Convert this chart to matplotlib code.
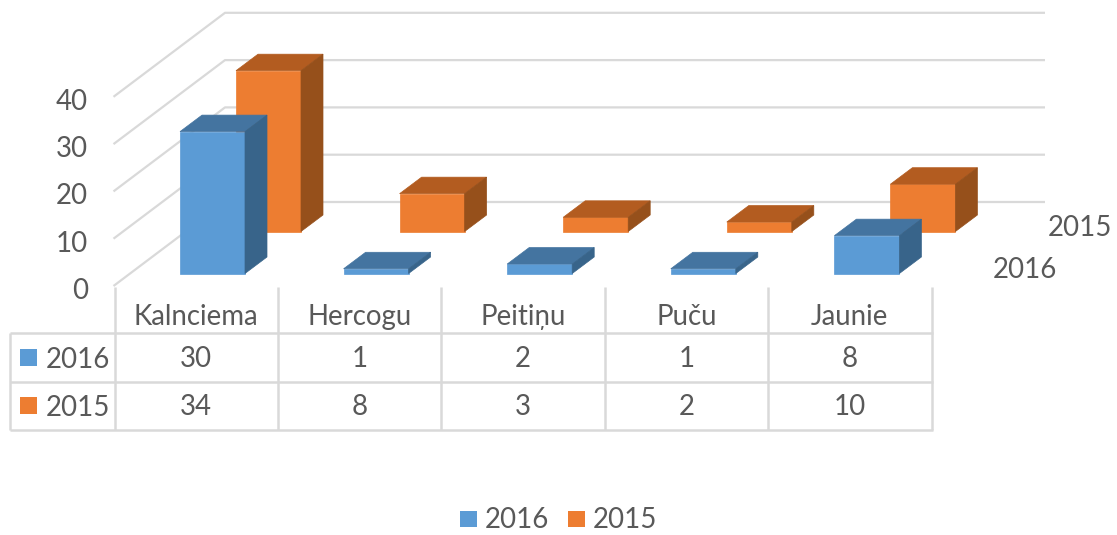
#! /usr/bin/python
import matplotlib
matplotlib.use('Agg')
import matplotlib.pyplot as plt

categories = ['Kalnciema', 'Hercogu', 'Peitiņu', 'Puču', 'Jaunie']
series_names = ['2016', '2015']
values_2016 = [30, 1, 2, 1, 8]
values_2015 = [34, 8, 3, 2, 10]
axis_ticks = [0, 10, 20, 30, 40]

plt.rcParams['font.family'] = ['Lato', 'DejaVu Sans']

W, H = 1117, 535
TEXT = '#595959'
GRID = '#d9d9d9'
FS = 19.9

# the scene is a fake 3D projection, everything in pixels of the picture
UNIT = 4.73       # pixels per value unit
STEP = 163.6      # category spacing
BAR_W = 65
DX, DY = 22, -16.5  # bar depth

fig = plt.figure(figsize=(W / 100, H / 100), dpi=100)
ax = fig.add_axes([0, 0, 1, 1])
ax.set_xlim(0, W)
ax.set_ylim(H, 0)
ax.axis('off')


def line(xs, ys, z=1, lw=1.6):
    ax.plot(xs, ys, color=GRID, lw=lw, zorder=z, solid_capstyle='butt')


def label(x, y, s, ha='center'):
    # +2 because Lato sits higher in its box than the original font
    ax.text(x, y + 2, s, ha=ha, va='center', fontsize=FS, color=TEXT, zorder=6)


def bar(x, base, value, front, top, side, z):
    h = value * UNIT
    x2 = x + BAR_W
    y1 = base - h
    ax.fill([x, x2, x2, x], [base, base, y1, y1], color=front, lw=0.5, zorder=z)
    ax.fill([x, x2, x2 + DX, x + DX], [y1, y1, y1 + DY, y1 + DY], color=top, lw=0.5, zorder=z)
    ax.fill([x2, x2 + DX, x2 + DX, x2], [base, base + DY, y1 + DY, y1], color=side, lw=0.5, zorder=z)


# walls
for t in axis_ticks:
    y_back = 202 - t * UNIT
    y_front = 286 - t * UNIT
    line([113.5, 225, 1045], [y_front, y_back, y_back])
    label(88, 289 - t * 4.725, str(t), ha='right')

# bars, back row first
for i, (a, b) in enumerate(zip(values_2016, values_2015)):
    bar(236 + i * STEP, 231.5, b, '#ed7d31', '#b35c20', '#96501b', 3 + i * 0.01)
for i, (a, b) in enumerate(zip(values_2016, values_2015)):
    bar(180 + i * STEP, 273.5, a, '#5b9bd5', '#4474a0', '#38648a', 4 + i * 0.01)

# depth axis labels
label(1112, 226, series_names[1], ha='right')
label(1057, 268, series_names[0], ha='right')

# data table
xs = [114.5 + i * 163.4 for i in range(len(categories) + 1)]
rows = [333, 381.5, 430]
for x in xs:
    line([x, x], [287, rows[-1]], 2, 1.8)
for y in rows:
    line([9.5, xs[-1] + 1], [y, y], 2, 1.8)
line([10, 10], [rows[0], rows[-1]], 2, 1.8)

for i, c in enumerate(categories):
    cx = xs[i] + 81.7
    label(cx, 315, c)
    label(cx, 357, str(values_2016[i]))
    label(cx, 405, str(values_2015[i]))

for name, col, y in zip(series_names, ['#5b9bd5', '#ed7d31'], [357.5, 405.5]):
    ax.fill([20, 37, 37, 20], [y - 8.5, y - 8.5, y + 8.5, y + 8.5], color=col, lw=0, zorder=5)
    label(46, y, name, ha='left')

# legend
for name, col, x in zip(series_names, ['#5b9bd5', '#ed7d31'], [460, 568]):
    ax.fill([x, x + 17, x + 17, x], [511, 511, 527, 527], color=col, lw=0, zorder=5)
    label(x + 25, 517.5, name, ha='left')

plt.savefig('out.png', dpi=100)
